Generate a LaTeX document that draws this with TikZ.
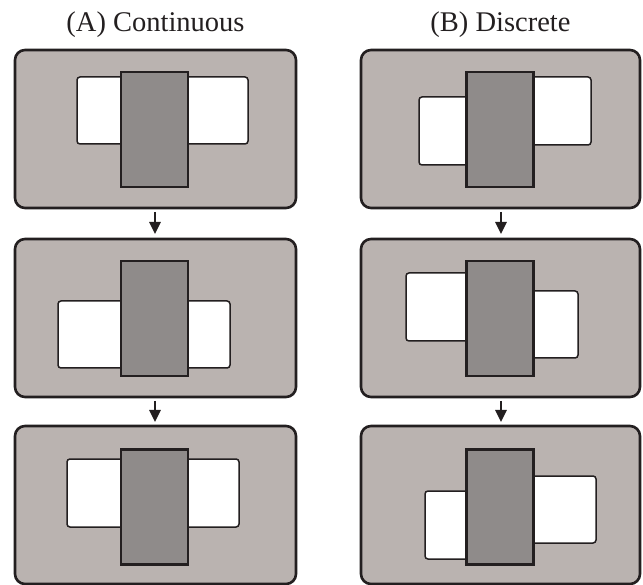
\documentclass[tikz,border=0pt]{standalone}
\usepackage{fontspec}
\setmainfont{Liberation Serif}
\usetikzlibrary{calc,arrows.meta}
\definecolor{panelfill}{RGB}{186,179,176}
\definecolor{darkfill}{RGB}{143,139,138}
\definecolor{ink}{RGB}{35,31,32}
\begin{document}
\begin{tikzpicture}[x=1pt,y=-1pt,
  panel/.style={draw=ink,fill=panelfill,line width=2.6pt,rounded corners=10pt,
    minimum height=158pt,inner sep=0pt,outer sep=0pt},
  panelA/.style={panel,minimum width=281pt},
  panelB/.style={panel,minimum width=279pt},
  darkbox/.style={draw=ink,fill=darkfill,line width=2.6pt,minimum width=67pt,
    minimum height=115pt,inner sep=0pt,outer sep=0pt},
  whitebox/.style={draw=ink,fill=white,line width=1.5pt,rounded corners=3pt},
  arr/.style={draw=ink,line width=2.6pt,-{Triangle[width=11pt,length=12pt]}},
  title/.style={anchor=base,inner sep=0pt,text=ink,font=\fontsize{28.5}{32}\selectfont}]
\useasboundingbox (0,0) rectangle (643,585);
% titles
\node[title] (tA) at (155.5,32) {(A) Continuous};
\node[title] (tB) at (500.5,32) {(B) Discrete};
% panels
\node[panelA] (a1) at (155.5,129) {};
\node[panelA] (a2) at (155.5,318) {};
\node[panelA] (a3) at (155.5,505) {};
\node[panelB] (b1) at (500.5,129) {};
\node[panelB] (b2) at (500.5,318) {};
\node[panelB] (b3) at (500.5,505) {};
% white boxes (A)
\draw[whitebox] (77,77) rectangle (140,144);
\draw[whitebox] (170,77) rectangle (248,144);
\draw[whitebox] (58,301) rectangle (140,368);
\draw[whitebox] (170,301) rectangle (230,368);
\draw[whitebox] (67,459) rectangle (140,527);
\draw[whitebox] (170,459) rectangle (239,527);
% white boxes (B)
\draw[whitebox] (419,97) rectangle (480,165);
\draw[whitebox] (520,77) rectangle (591,145);
\draw[whitebox] (406,273) rectangle (480,341);
\draw[whitebox] (520,291) rectangle (578,358);
\draw[whitebox] (425,491) rectangle (480,559);
\draw[whitebox] (520,476) rectangle (596,543);
% dark boxes
\node[darkbox] (da1) at (154.5,129.5) {};
\node[darkbox] (da2) at (154.5,318.5) {};
\node[darkbox] (da3) at (154.5,507) {};
\node[darkbox] (db1) at (500,129.5) {};
\node[darkbox] (db2) at (500,318.5) {};
\node[darkbox] (db3) at (500,507) {};
% arrows
\draw[arr] ($(a1.south)+(-0.5,4)$) -- ($(a2.north)+(-0.5,-5)$);
\draw[arr] ($(a2.south)+(-0.5,4)$) -- ($(a3.north)+(-0.5,-4)$);
\draw[arr] ($(b1.south)+(0.5,4)$) -- ($(b2.north)+(0.5,-5)$);
\draw[arr] ($(b2.south)+(0.5,4)$) -- ($(b3.north)+(0.5,-4)$);
\end{tikzpicture}
\end{document}
